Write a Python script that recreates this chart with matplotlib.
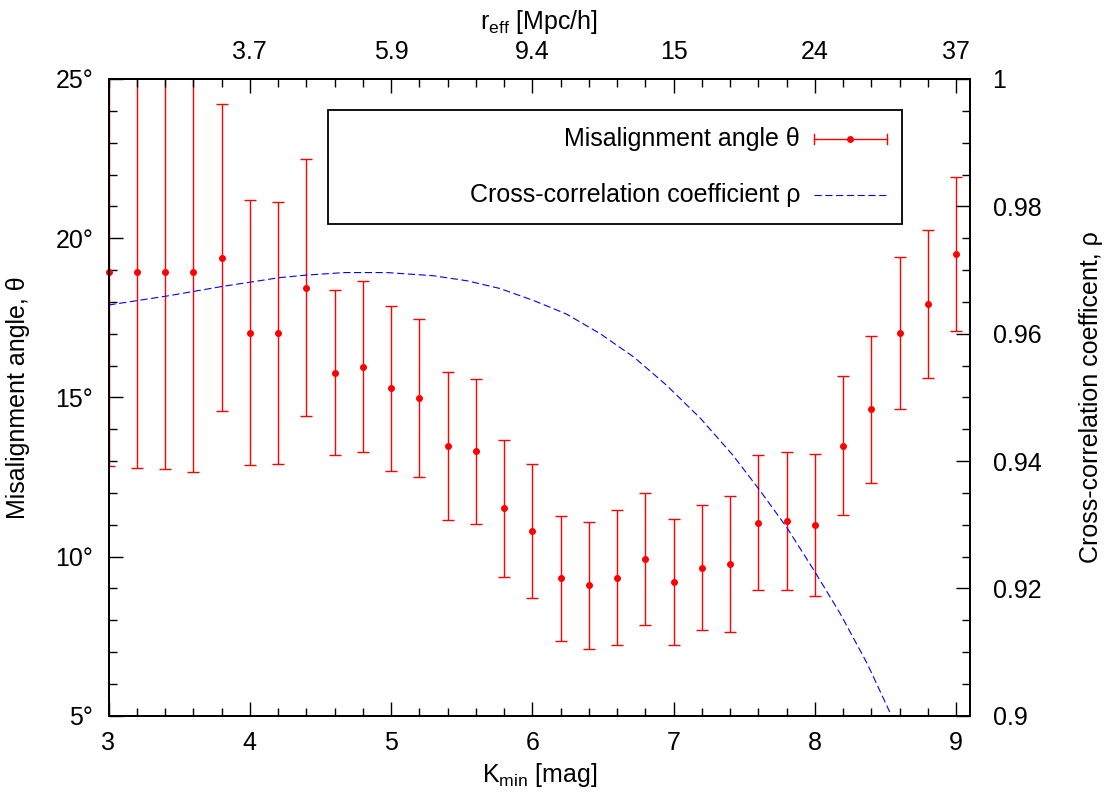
import matplotlib
matplotlib.use("Agg")
import matplotlib.pyplot as plt
from matplotlib.ticker import MultipleLocator, FixedLocator, FuncFormatter
from matplotlib.lines import Line2D
from matplotlib.patches import Rectangle

# Misalignment angle vs. magnitude cut
k_min = [3.0, 3.2, 3.4, 3.6, 3.8, 4.0, 4.2, 4.4, 4.6, 4.8,
         5.0, 5.2, 5.4, 5.6, 5.8, 6.0, 6.2, 6.4, 6.6, 6.8,
         7.0, 7.2, 7.4, 7.6, 7.8, 8.0, 8.2, 8.4, 8.6, 8.8, 9.0]
theta = [18.93, 18.93, 18.93, 18.93, 19.39, 17.03, 17.03, 18.45, 15.78, 15.96,
         15.28, 14.99, 13.47, 13.31, 11.51, 10.80, 9.31, 9.10, 9.34, 9.92,
         9.21, 9.65, 9.76, 11.06, 11.12, 10.99, 13.48, 14.63, 17.01, 17.94, 19.49]
theta_err = [6.09, 6.16, 6.19, 6.26, 4.81, 4.17, 4.11, 4.03, 2.59, 2.68,
             2.60, 2.48, 2.32, 2.28, 2.16, 2.10, 1.97, 1.99, 2.13, 2.07,
             1.98, 1.96, 2.14, 2.12, 2.17, 2.24, 2.19, 2.31, 2.39, 2.32, 2.42]

# Cross-correlation coefficient curve
rho_k = [3.0, 3.41, 3.80, 4.21, 4.40, 4.67, 4.97, 5.30, 5.54, 5.77,
         6.01, 6.24, 6.48, 6.72, 6.95, 7.19, 7.42, 7.61, 7.80, 8.00,
         8.18, 8.37, 8.54, 8.60]
rho = [0.9645, 0.9659, 0.9674, 0.9688, 0.9692, 0.9696, 0.9696, 0.9691, 0.9683, 0.9671,
       0.9652, 0.9631, 0.9600, 0.9563, 0.9519, 0.9467, 0.9409, 0.9354, 0.9296, 0.9226,
       0.9160, 0.9082, 0.9001, 0.8975]

# top axis: effective radius
r_eff_pos = [4, 5, 6, 7, 8, 9]
r_eff_labels = ["3.7", "5.9", "9.4", "15", "24", "37"]

plt.rcParams["font.family"] = ["Liberation Sans", "DejaVu Sans"]
plt.rcParams["font.size"] = 18
plt.rcParams["mathtext.default"] = "regular"

fig = plt.figure(figsize=(11.09, 7.98), dpi=100)
ax = fig.add_axes([108.5 / 1109, 1 - 715.7 / 798, 861.8 / 1109, 636.7 / 798])

eb = ax.errorbar(k_min, theta, yerr=theta_err, fmt="o", color="red", ms=4,
                 elinewidth=1.0, capsize=4, capthick=1.0)
eb[0].set_clip_on(False)

ax.set_xlim(3, 9.1)
ax.set_ylim(5, 25)
ax.xaxis.set_major_locator(MultipleLocator(1))
ax.xaxis.set_minor_locator(MultipleLocator(0.2))
ax.yaxis.set_major_locator(MultipleLocator(5))
ax.yaxis.set_minor_locator(MultipleLocator(1))
ax.yaxis.set_major_formatter(FuncFormatter(lambda v, p: f"{v:.0f}°"))
ax.tick_params(which="both", direction="in", top=False, right=False, width=1.0)
ax.tick_params(which="major", length=10)
ax.tick_params(which="minor", length=6)
ax.tick_params(axis="y", pad=11)
ax.tick_params(axis="x", pad=11)
ax.set_xlabel("K$_{min}$ [mag]", labelpad=4)
ax.set_ylabel("Misalignment angle, θ")
ax.yaxis.set_label_coords(-0.091, 0.5)

ax2 = ax.twinx()
ax2.plot(rho_k, rho, color="blue", lw=0.8, dashes=(6.5, 3.2))
ax2.set_ylim(0.9, 1.0)
ax2.yaxis.set_major_locator(MultipleLocator(0.02))
ax2.yaxis.set_minor_locator(MultipleLocator(0.005))
ax2.yaxis.set_major_formatter(FuncFormatter(lambda v, p: f"{v:g}"))
ax2.tick_params(which="both", direction="in", width=1.0, pad=16)
ax2.tick_params(which="major", length=10)
ax2.tick_params(which="minor", length=6)
ax2.set_ylabel("Cross-correlation coefficent, ρ", labelpad=27)

ax3 = ax.twiny()
ax3.set_xlim(3, 9.1)
ax3.xaxis.set_major_locator(FixedLocator(r_eff_pos))
ax3.xaxis.set_major_formatter(FuncFormatter(lambda v, p: r_eff_labels[r_eff_pos.index(int(round(v)))]))
ax3.xaxis.set_minor_locator(MultipleLocator(0.2))
ax3.tick_params(which="both", direction="in", width=1.0, pad=11)
ax3.tick_params(which="major", length=10)
ax3.tick_params(which="minor", length=6)
ax3.set_xlabel("r$_{eff}$ [Mpc/h]", labelpad=8)

for a in (ax, ax2, ax3):
    for s in a.spines.values():
        s.set_linewidth(1.4)

# legend box drawn by hand, gnuplot style
def fx(px):
    return (px - 108.5) / 861.8

def fy(py):
    return (715.7 - py) / 636.7

tr = ax3.transAxes
ax3.add_patch(Rectangle((fx(328), fy(224)), fx(902) - fx(328), fy(110) - fy(224),
                        transform=tr, fill=False, edgecolor="black", lw=1.3, zorder=5))
ax3.text(fx(800), fy(139), "Misalignment angle θ", transform=tr, ha="right", va="center")
ax3.text(fx(800), fy(195), "Cross-correlation coefficient ρ", transform=tr, ha="right", va="center")
ax3.add_line(Line2D([fx(814), fx(887)], [fy(139), fy(139)], transform=tr, color="red", lw=1.0))
ax3.add_line(Line2D([fx(814), fx(814)], [fy(134), fy(144)], transform=tr, color="red", lw=1.0))
ax3.add_line(Line2D([fx(887), fx(887)], [fy(134), fy(144)], transform=tr, color="red", lw=1.0))
ax3.add_line(Line2D([fx(850)], [fy(139)], transform=tr, color="red", marker="o", ms=4, lw=0))
ax3.add_line(Line2D([fx(814), fx(887)], [fy(195), fy(195)], transform=tr, color="blue",
                    lw=0.8, dashes=(6.5, 3.2)))

fig.savefig("out.png", dpi=100)
